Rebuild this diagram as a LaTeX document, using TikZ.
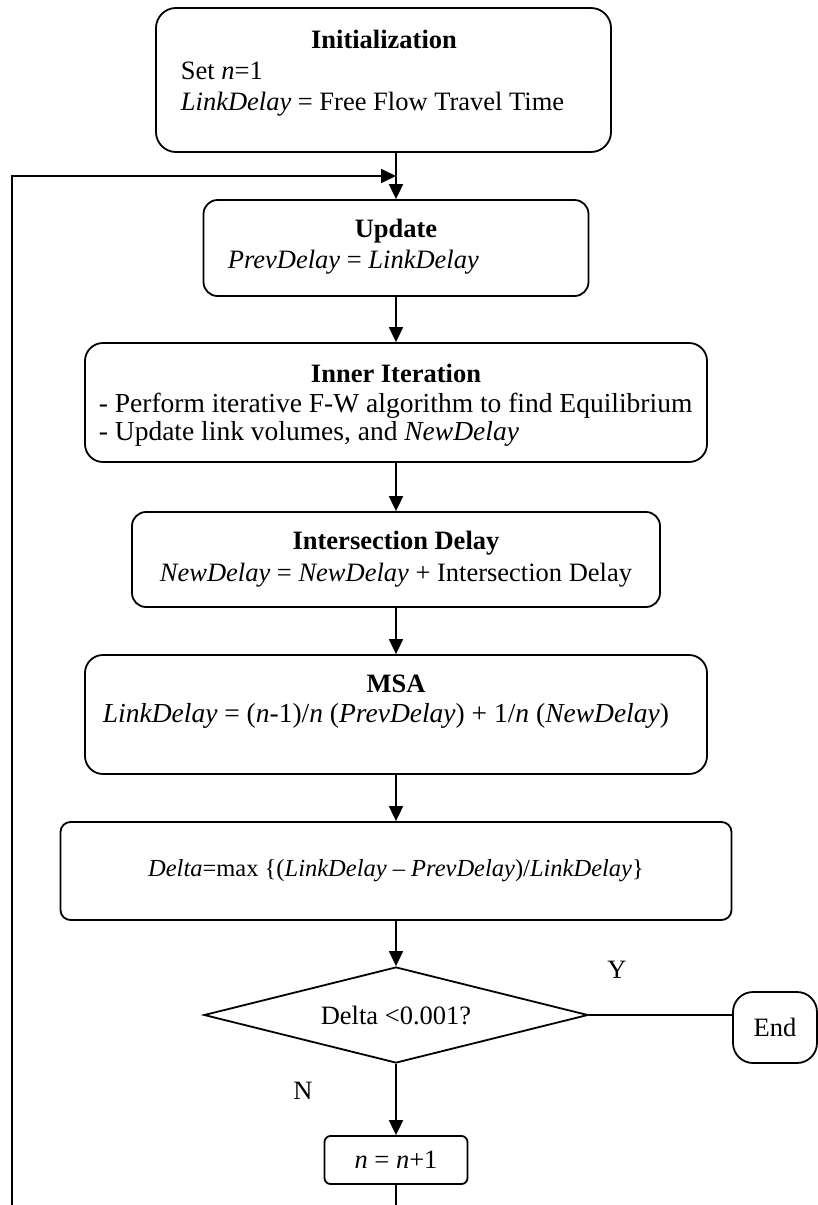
\documentclass[tikz,border=0pt]{standalone}
\usepackage{fontspec}
\setmainfont{Liberation Serif}
\usetikzlibrary{arrows.meta,shapes.geometric}
\begin{document}
\begin{tikzpicture}[x=1pt,y=-1pt,line width=1.8pt,>={Triangle[length=15pt,width=14pt]},font=\fontsize{26.5}{32}\selectfont,
box/.style={draw,rectangle,inner sep=0pt,align=center},
txt/.style={inner sep=0pt,anchor=mid},
txtl/.style={inner sep=0pt,anchor=mid west},
big/.style={font=\fontsize{27.5}{32}\selectfont}]
\useasboundingbox (0,0) rectangle (818,1205);
\clip (0,0) rectangle (818,1205);
\node[box,rounded corners=20pt,minimum width=455pt,minimum height=144pt] (init) at (383.5,80) {};
\node[txt] (initt) at (384,46) {\textbf{Initialization}};
\node[txtl] (init1) at (180,77) {Set \textit{n}=1};
\node[txtl] (init2) at (180,108) {\textit{LinkDelay} = Free Flow Travel Time};
\node[box,rounded corners=14pt,minimum width=385pt,minimum height=96pt] (upd) at (396,248) {};
\node[txt] (updt) at (396,235) {\textbf{Update}};
\node[txtl] (upd1) at (227,266) {\textit{PrevDelay} = \textit{LinkDelay}};
\node[box,rounded corners=18pt,minimum width=622pt,minimum height=119pt] (inner) at (396,402.5) {};
\node[txt] (innert) at (396,380) {\textbf{Inner Iteration}};
\node[txtl,big] (inner1) at (98,410) {- Perform iterative F-W algorithm to find Equilibrium};
\node[txtl,big] (inner2) at (98,438) {- Update link volumes, and \textit{NewDelay}};
\node[box,rounded corners=14pt,minimum width=528pt,minimum height=95pt] (isd) at (396,559.5) {\textbf{Intersection Delay}\\ \textit{NewDelay} = \textit{NewDelay} + Intersection Delay};
\node[box,rounded corners=18pt,minimum width=622pt,minimum height=119pt] (msa) at (396,714.5) {};
\node[txt] (msat) at (396,690) {\textbf{MSA}};
\node[txtl,big] (msa1) at (102,720) {\textit{LinkDelay} = (\textit{n}-1)/\textit{n} (\textit{PrevDelay}) + 1/\textit{n} (\textit{NewDelay})};
\node[box,rounded corners=10pt,minimum width=671pt,minimum height=98pt,font=\fontsize{24.5}{28}\selectfont] (dlt) at (396,871) {\textit{Delta}=max \{(\textit{LinkDelay -- PrevDelay})/\textit{LinkDelay}\}};
\node[draw,diamond,aspect=4,minimum width=384pt,minimum height=96pt,inner sep=0pt] (dec) at (396,1015) {Delta <0.001?\hspace{12pt}};
\node[box,rounded corners=20pt,minimum width=84pt,minimum height=71pt] (fin) at (775,1027.5) {End};
\node[box,rounded corners=6pt,minimum width=143pt,minimum height=48pt] (nxt) at (396,1160) {\textit{n} = \textit{n}+1};
\node (ylab) at (617,970) {Y};
\node (nlab) at (303,1091) {N};
\coordinate (loopin) at (396,176);
\coordinate (corner) at (12,1225);
\draw[->] (upd.north |- init.south) -- (upd.north);
\draw[->] (upd) -- (inner);
\draw[->] (inner) -- (isd);
\draw[->] (isd) -- (msa);
\draw[->] (msa) -- (dlt);
\draw[->] (dlt) -- (dec);
\draw (dec.east) -- (dec.east -| fin.west);
\draw[->] (dec) -- (nxt);
\draw[->] (nxt.south) |- (corner) |- (loopin);
\end{tikzpicture}
\end{document}
